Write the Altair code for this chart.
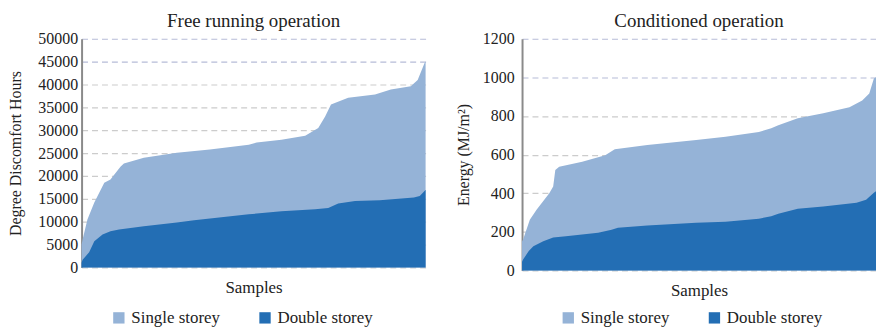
import altair as alt
import pandas as pd

SERIES = ["Single storey", "Double storey"]
COLORS = ["#95B3D7", "#236EB4"]

# Free running operation (samples as % of ordered samples)
free_single_x = [0, 0.3, 1.7, 3.7, 6.6, 8.4, 11.3, 12.3, 18.1, 27.7, 37.3, 48.6, 50.9, 58.1, 65.0, 68.8, 70.8, 72.5, 77.5, 85.3, 89.9, 95.7, 97.7, 99.7, 100]
free_single_y = [5000, 6100, 10500, 14200, 18500, 19200, 22000, 22700, 24000, 25100, 25800, 26800, 27300, 27900, 28800, 30500, 33000, 35600, 37100, 37800, 38900, 39600, 41000, 44700, 45000]
free_double_x = [0, 0.3, 2.2, 3.7, 6.1, 8.4, 10.9, 18.1, 27.7, 32.7, 48.6, 58.1, 67.9, 71.7, 74.6, 79.5, 86.7, 96.6, 98.3, 99.7, 100]
free_double_y = [1000, 1700, 3300, 5700, 7200, 7900, 8300, 9000, 9800, 10300, 11600, 12300, 12700, 13000, 14000, 14500, 14700, 15300, 15600, 16700, 17000]

# Conditioned operation
cond_single_x = [0, 0.3, 2.2, 4.1, 7.7, 8.8, 9.4, 10.5, 17.0, 23.5, 26.2, 35.4, 49.2, 57.5, 66.9, 70.4, 72.4, 77.9, 85.1, 92.5, 96.1, 98.1, 99.4, 100]
cond_single_y = [150, 160, 263, 314, 400, 434, 520, 537, 563, 597, 628, 649, 675, 692, 717, 736, 752, 788, 814, 845, 880, 917, 994, 1000]
cond_double_x = [0, 0.3, 1.9, 3.2, 6.0, 8.8, 12.4, 21.5, 25.3, 27.1, 35.4, 49.2, 57.5, 66.9, 70.4, 72.4, 77.9, 85.1, 94.5, 97.2, 99.4, 100]
cond_double_y = [45, 57, 100, 125, 151, 170, 177, 195, 211, 221, 233, 247, 252, 268, 280, 294, 319, 331, 350, 366, 402, 410]

FONT = "Times New Roman"


def panel(sx, sy, dx, dy, title, ytitle, ymax, ystep, hi, w, h, lab_pad, title_pad, leg_x, leg_y):
    df_s = pd.DataFrame({"sample": sx, "value": sy, "series": SERIES[0]})
    df_d = pd.DataFrame({"sample": dx, "value": dy, "series": SERIES[1]})
    color = alt.Color(
        "series:N",
        scale=alt.Scale(domain=SERIES, range=COLORS),
        legend=alt.Legend(
            title=None, orient="none", legendX=leg_x, legendY=leg_y, direction="horizontal",
            symbolType="square", symbolSize=130, symbolStrokeWidth=0,
            labelFont=FONT, labelFontSize=17, labelColor="#222",
            columnPadding=36, labelLimit=300,
        ),
    )
    x = alt.X(
        "sample:Q",
        scale=alt.Scale(domain=[0, 100], nice=False, zero=False),
        axis=alt.Axis(title="Samples", labels=False, ticks=False, domain=False, grid=False,
                      titleFont=FONT, titleFontSize=17, titleFontWeight="normal",
                      titleColor="#222", titlePadding=12),
    )
    y = alt.Y(
        "value:Q",
        stack=None,
        scale=alt.Scale(domain=[0, ymax], nice=False),
        axis=alt.Axis(
            title=ytitle, values=list(range(0, ymax + 1, ystep)), format="d",
            labelFont=FONT, labelFontSize=16, labelColor="#222", labelPadding=lab_pad,
            titleFont=FONT, titleFontSize=16, titleFontWeight="normal", titleColor="#222",
            titlePadding=title_pad, ticks=False,
            domainColor="#8a8a8a", domainWidth=2,
            grid=True, gridDash=[6, 4], gridWidth=1.2,
            gridColor={"condition": {"test": f"datum.value >= {hi}", "value": "#b6bcd8"},
                       "value": "#cccccc"},
        ),
    )
    a1 = alt.Chart(df_s).mark_area(opacity=1, interpolate="linear").encode(x=x, y=y, color=color)
    a2 = alt.Chart(df_d).mark_area(opacity=1, interpolate="linear").encode(x=x, y=y, color=color)
    return alt.layer(a1, a2).properties(
        width=w, height=h,
        title=alt.TitleParams(title, font=FONT, fontSize=19, fontWeight="normal",
                              color="#222", frame="group", anchor="middle", offset=0),
    )


left = panel(free_single_x, free_single_y, free_double_x, free_double_y,
             "Free running operation", "Degree Discomfort Hours", 50000, 5000, 45000,
             346, 230, 4, 14, 29, 272)
right = panel(cond_single_x, cond_single_y, cond_double_x, cond_double_y,
              "Conditioned operation", "Energy (MJ/m²)", 1200, 200, 1000,
              356, 233, 8, 11, 38, 272)

chart = alt.hconcat(left, right, spacing=30).resolve_scale(color="independent").properties(
    padding={"top": 3, "left": 0, "right": 0, "bottom": 0}
).configure(font=FONT).configure_view(stroke=None)

chart.save("out.html", embed_options={"renderer": "svg", "actions": False})
